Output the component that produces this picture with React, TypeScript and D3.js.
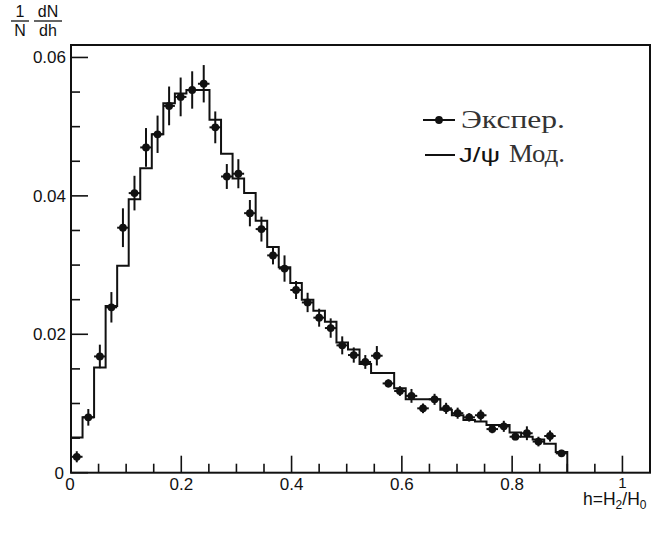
import React from "react";
import * as d3 from "d3";

// ---- data ----
const binCount = 43;
const rangeMax = 0.9;
const expValues = [
  0.0023, 0.008, 0.0168, 0.0239, 0.0354, 0.0404, 0.047, 0.0489, 0.053, 0.0543,
  0.0553, 0.0562, 0.0499, 0.0428, 0.0432, 0.0375, 0.0352, 0.0314, 0.0295, 0.0264,
  0.0246, 0.0224, 0.0209, 0.0184, 0.017, 0.016, 0.0169, 0.0129, 0.0118, 0.0111,
  0.0093, 0.0106, 0.0093, 0.0086, 0.008, 0.0083, 0.0063, 0.0067, 0.0052, 0.0057,
  0.0045, 0.0053, 0.0028,
];
const expErrors = [
  0.0008, 0.0012, 0.0017, 0.0022, 0.0028, 0.0025, 0.0028, 0.0027, 0.0028, 0.0028,
  0.0027, 0.0027, 0.0023, 0.0018, 0.0021, 0.0019, 0.0018, 0.0013, 0.0019, 0.0013,
  0.0014, 0.0013, 0.0014, 0.0013, 0.0011, 0.001, 0.0014, 0.0006, 0.0007, 0.001,
  0.0007, 0.0008, 0.0008, 0.0008, 0.0006, 0.0008, 0.0006, 0.0008, 0.0005, 0.001,
  0.0007, 0.0008, 0.0005,
];
const modelValues = [
  0.0051, 0.008, 0.0152, 0.0241, 0.0299, 0.0395, 0.044, 0.0489, 0.0534, 0.0548,
  0.0553, 0.0553, 0.051, 0.0461, 0.0425, 0.0404, 0.0364, 0.0326, 0.0297, 0.0274,
  0.025, 0.0234, 0.0218, 0.0188, 0.0178, 0.0157, 0.0144, 0.0144, 0.0122, 0.0106,
  0.0106, 0.0106, 0.0091, 0.0083, 0.0076, 0.0074, 0.0069, 0.0069, 0.0058, 0.0052,
  0.0048, 0.0042, 0.003,
];
const xMajorTicks = [0, 0.2, 0.4, 0.6, 0.8, 1];
const xTickLabels = ["0", "0.2", "0.4", "0.6", "0.8", "1"];
const yMajorTicks = [0, 0.02, 0.04, 0.06];
const yTickLabels = ["0", "0.02", "0.04", "0.06"];
const legendLabels = ["Экспер.", "J/ψ", "Мод."];

const W = 667;
const H = 534;
const L = 71, R = 650, T = 45, B = 472.7;

export default function App() {
  const x = d3.scaleLinear().domain([0, 1.05]).range([L, R]);
  const y = d3.scaleLinear().domain([0, 0.0618]).range([B, T]);
  const bw = rangeMax / binCount;

  // histogram step path
  const pts: [number, number][] = [[0, 0]];
  modelValues.forEach((v, i) => {
    pts.push([i * bw, v]);
    pts.push([(i + 1) * bw, v]);
  });
  pts.push([binCount * bw, 0]);
  const line = d3
    .line<[number, number]>()
    .x((d) => x(d[0]))
    .y((d) => y(d[1]));
  const histPath = line(pts) || "";

  const xMinor = d3.range(0, 1.0501, 0.05);
  const yMinor = d3.range(0, 0.0601, 0.005);

  const sans = "'Liberation Sans', Arial, sans-serif";
  const serif = "'Liberation Serif', 'DejaVu Serif', serif";
  const ink = "#111";

  return (
    <svg
      width={W}
      height={H}
      style={{ position: "absolute", left: 0, top: 0, background: "#fff" }}
    >
      <rect x={0} y={0} width={W} height={H} fill="#fff" />
      {/* frame */}
      <rect x={L} y={T} width={R - L} height={B - T} fill="none" stroke={ink} strokeWidth={2} />

      {/* x ticks */}
      {xMinor.map((t, i) => {
        const major = Math.abs(t / 0.2 - Math.round(t / 0.2)) < 1e-6;
        return (
          <line key={"xm" + i} x1={x(t)} x2={x(t)} y1={B} y2={B - (major ? 17 : 9)} stroke={ink} strokeWidth={1.6} />
        );
      })}
      {/* y ticks */}
      {yMinor.map((t, i) => {
        const major = Math.abs(t / 0.02 - Math.round(t / 0.02)) < 1e-6;
        return (
          <line key={"ym" + i} x1={L} x2={L + (major ? 17 : 9)} y1={y(t)} y2={y(t)} stroke={ink} strokeWidth={1.6} />
        );
      })}

      {/* x tick labels */}
      {xMajorTicks.map((t, i) => (
        <text key={"xl" + i} x={x(t) + (i === 0 ? -1 : 0)} y={i === 5 ? 488 : 490} textAnchor="middle" fontFamily={sans} fontSize={i === 5 ? 15 : 17} fill={ink}>
          {xTickLabels[i]}
        </text>
      ))}
      {/* y tick labels */}
      {yMajorTicks.map((t, i) => (
        <text key={"yl" + i} x={i === 0 ? 64 : 66} y={y(t) + 6} textAnchor="end" fontFamily={sans} fontSize={17} fill={ink}>
          {yTickLabels[i]}
        </text>
      ))}

      {/* y title 1/N dN/dh */}
      <g fontFamily={sans} fontSize={16} fill={ink} textAnchor="middle">
        <text x={20} y={17}>1</text>
        <line x1={11} x2={29} y1={21} y2={21} stroke={ink} strokeWidth={1.3} />
        <text x={20} y={36}>N</text>
        <text x={48} y={17}>dN</text>
        <line x1={34} x2={62} y1={21} y2={21} stroke={ink} strokeWidth={1.3} />
        <text x={48} y={36}>dh</text>
      </g>

      {/* x title */}
      <text x={583} y={505} fontFamily={sans} fontSize={17.5} fill={ink}>
        h=H<tspan fontSize={12} dy={4}>2</tspan>
        <tspan dy={-4}>/H</tspan>
        <tspan fontSize={12} dy={4}>0</tspan>
      </text>

      {/* model histogram */}
      <path d={histPath} fill="none" stroke={ink} strokeWidth={2} />

      {/* experimental points */}
      {expValues.map((v, i) => {
        const cx = x((i + 0.5) * bw);
        const cy = y(v);
        return (
          <g key={"p" + i}>
            <line x1={x(i * bw)} x2={x((i + 1) * bw)} y1={cy} y2={cy} stroke={ink} strokeWidth={2} />
            <line x1={cx} x2={cx} y1={y(v - expErrors[i])} y2={y(v + expErrors[i])} stroke={ink} strokeWidth={2} />
            <circle cx={cx} cy={cy} r={3.9} fill={ink} />
          </g>
        );
      })}

      {/* legend */}
      <line x1={423} x2={455} y1={120} y2={120} stroke={ink} strokeWidth={2} />
      <circle cx={439} cy={120} r={3.9} fill={ink} />
      <text x={461} y={128} fontFamily={serif} fontSize={25} fill="#333" textLength={104} lengthAdjust="spacingAndGlyphs">
        {legendLabels[0]}
      </text>
      <line x1={425} x2={455} y1={155} y2={155} stroke={ink} strokeWidth={2} />
      <text x={459} y={162} fontFamily={sans} fontSize={21} fill={ink} textLength={41} lengthAdjust="spacingAndGlyphs">
        {legendLabels[1]}
      </text>
      <text x={509} y={162} fontFamily={serif} fontSize={25} fill="#333" textLength={56} lengthAdjust="spacingAndGlyphs">
        {legendLabels[2]}
      </text>
    </svg>
  );
}
